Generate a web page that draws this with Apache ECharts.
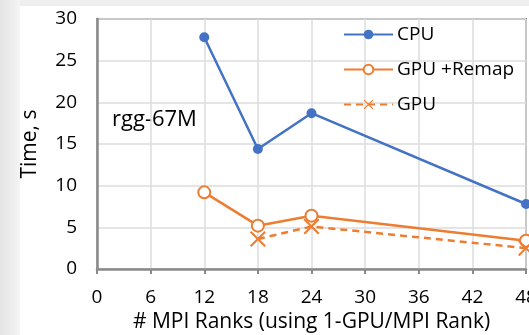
<!DOCTYPE html>
<html><head><meta charset="utf-8">
<script src="https://cdn.jsdelivr.net/npm/echarts@6/dist/echarts.min.js"></script>
<style>html,body{margin:0;padding:0;background:#fff}#c{width:529px;height:335px}</style>
</head><body><div id="c"></div>
<script>
const xTicks = [0, 6, 12, 18, 24, 30, 36, 42, 48];
const cpuX = [12, 18, 24, 48];
const cpuY = [27.8, 14.4, 18.7, 7.8];
const remapX = [12, 18, 24, 48];
const remapY = [9.2, 5.2, 6.4, 3.4];
const gpuX = [18, 24, 48];
const gpuY = [3.6, 5.1, 2.5];

const pair = (xs, ys) => xs.map((x, i) => [x, ys[i]]);
const FONT = 'Open Sans';
const xMark = 'path://M0,0.9L0.9,0L5,4.1L9.1,0L10,0.9L5.9,5L10,9.1L9.1,10L5,5.9L0.9,10L0,9.1L4.1,5Z';

const chart = echarts.init(document.getElementById('c'));
chart.setOption({
  animation: false,
  backgroundColor: '#fff',
  textStyle: { fontFamily: FONT },
  graphic: [
    { type: 'rect', shape: { x: 0, y: 0, width: 529, height: 6 }, style: { fill: '#efefef' }, silent: true, z: -10 },
    { type: 'rect', shape: { x: 0, y: 0, width: 20, height: 335 },
      style: { fill: new echarts.graphic.LinearGradient(0, 0, 1, 0, [{ offset: 0, color: '#e4e4e4' }, { offset: 1, color: '#f4f4f4' }]) }, silent: true, z: -10 },
    { type: 'text', left: 112, top: 109, style: { text: 'rgg-67M', font: '22px ' + FONT, fill: '#000' } }
  ],
  grid: { left: 97, right: 3, top: 19, bottom: 66, show: true, borderColor: '#8a8a8a', borderWidth: 2, backgroundColor: 'transparent', outerBoundsMode: 'none' },
  legend: {
    orient: 'vertical', left: 343, top: 25, padding: 0, itemWidth: 49, itemHeight: 12, itemGap: 16,
    textStyle: { fontFamily: FONT, fontSize: 19, color: '#000', padding: [0, 0, 0, -1] },
    data: ['CPU', 'GPU +Remap', 'GPU']
  },
  xAxis: {
    type: 'value', min: 0, max: 48, interval: 6,
    name: '# MPI Ranks (using 1-GPU/MPI Rank)', nameLocation: 'middle', nameGap: 43,
    nameTextStyle: { fontFamily: FONT, fontSize: 21, color: '#000' },
    axisLine: { show: true, lineStyle: { color: '#8a8a8a', width: 2.5 } },
    axisTick: { show: true, length: 5, lineStyle: { color: '#8a8a8a', width: 2 } },
    axisLabel: { fontFamily: FONT, fontSize: 19, color: '#000', margin: 19, alignMaxLabel: 'center', alignMinLabel: 'center', formatter: v => xTicks.includes(v) ? String(v) : '' },
    splitLine: { show: true, lineStyle: { color: '#dcdcdc', width: 1.5 } }
  },
  yAxis: {
    type: 'value', min: 0, max: 30, interval: 5,
    name: 'Time, s', nameLocation: 'middle', nameGap: 56, nameRotate: 90,
    nameTextStyle: { fontFamily: FONT, fontSize: 21, color: '#000' },
    axisLine: { show: true, lineStyle: { color: '#8a8a8a', width: 2.5 } },
    axisTick: { show: false },
    axisLabel: { fontFamily: FONT, fontSize: 19, color: '#000', margin: 20 },
    splitLine: { show: true, lineStyle: { color: '#dcdcdc', width: 1.5 } }
  },
  series: [
    { name: 'CPU', type: 'line', data: pair(cpuX, cpuY), symbol: 'circle', symbolSize: 10,
      itemStyle: { color: '#4472C4' }, lineStyle: { color: '#4472C4', width: 2.5 } },
    { name: 'GPU +Remap', type: 'line', data: pair(remapX, remapY), symbol: 'circle', symbolSize: 12,
      itemStyle: { color: '#fff', borderColor: '#ED7D31', borderWidth: 2 }, lineStyle: { color: '#ED7D31', width: 2.5 } },
    { name: 'GPU', type: 'line', data: pair(gpuX, gpuY), symbol: xMark, symbolSize: 16,
      itemStyle: { color: '#ED7D31' }, lineStyle: { color: '#ED7D31', width: 2.5, type: [7, 5] } }
  ]
});
</script></body></html>
